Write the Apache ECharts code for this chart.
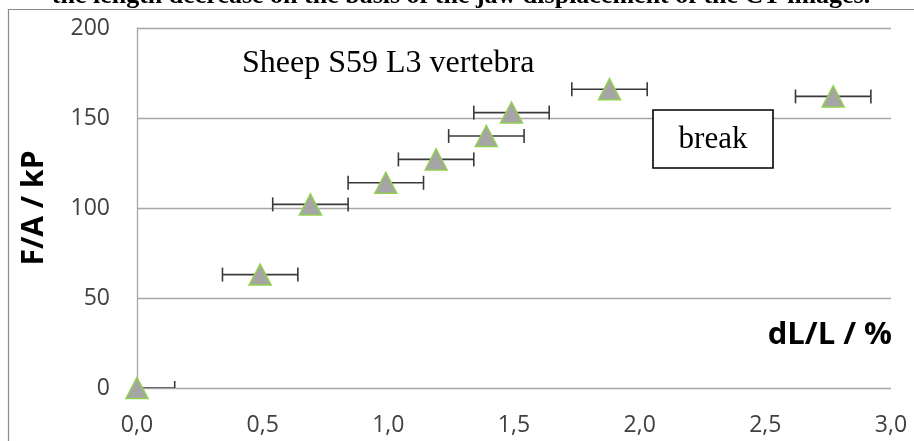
<!DOCTYPE html>
<html>
<head>
<meta charset="utf-8">
<script src="https://cdn.jsdelivr.net/npm/echarts@6/dist/echarts.min.js"></script>
<style>
html,body{margin:0;padding:0;background:#fff;}
#chart{width:914px;height:441px;}
</style>
</head>
<body>
<div id="chart"></div>
<script>
// ---- data ----
const xValues = [0.0, 0.49, 0.69, 0.99, 1.19, 1.39, 1.49, 1.88, 2.77];
const yValues = [0, 63, 102, 114, 127, 140, 153, 166, 162];
const xErrors = [0.15, 0.15, 0.15, 0.15, 0.15, 0.15, 0.15, 0.15, 0.15];
const xTicks = [0.0, 0.5, 1.0, 1.5, 2.0, 2.5, 3.0];
const yTicks = [0, 50, 100, 150, 200];
const titleText = 'the length decrease on the basis of the jaw displacement of the CT images.';
const sampleLabel = 'Sheep S59 L3 vertebra';
const breakLabel = 'break';
const xName = 'dL/L / %';
const yName = 'F/A / kP';

const points = xValues.map((x, i) => [x, yValues[i]]);
const errData = xValues.map((x, i) => [x, yValues[i], xErrors[i]]);

const chart = echarts.init(document.getElementById('chart'), null, {renderer: 'canvas'});

const tickFont = {fontFamily: 'Open Sans', fontSize: 23, color: '#404040'};

chart.setOption({
  animation: false,
  backgroundColor: '#ffffff',
  grid: {left: 137, right: 23, top: 28, bottom: 53, containLabel: false},
  xAxis: {
    type: 'value',
    min: xTicks[0],
    max: xTicks[xTicks.length - 1],
    interval: 0.5,
    axisLine: {show: false},
    axisTick: {show: false},
    splitLine: {show: false},
    axisLabel: Object.assign({margin: 26, formatter: v => v.toFixed(1).replace('.', ',')}, tickFont)
  },
  yAxis: {
    type: 'value',
    min: yTicks[0],
    max: yTicks[yTicks.length - 1],
    interval: 50,
    name: yName,
    nameLocation: 'middle',
    nameGap: 88,
    nameRotate: 90,
    nameTextStyle: {fontFamily: 'Open Sans', fontWeight: 'bold', fontSize: 30, color: '#000'},
    axisLine: {show: true, lineStyle: {color: '#a6a6a6', width: 1.3}},
    axisTick: {show: false},
    splitLine: {show: true, lineStyle: {color: '#a6a6a6', width: 1.3}},
    axisLabel: Object.assign({margin: 27}, tickFont)
  },
  graphic: [
    {type: 'rect', shape: {x: 8.5, y: 9.5, width: 1000, height: 1000}, style: {fill: 'none', stroke: '#8c8c8c', lineWidth: 1.2}, z: 1},
    {type: 'text', x: 461, y: 9, style: {text: titleText, font: 'bold 26px "Liberation Serif"', fill: '#000', align: 'center', verticalAlign: 'bottom'}, z: 10},
    {type: 'text', x: 242, y: 80, style: {text: sampleLabel, font: '32px "Liberation Serif"', fill: '#000', align: 'left', verticalAlign: 'bottom'}, z: 10},
    {type: 'rect', shape: {x: 653, y: 110, width: 120, height: 58}, style: {fill: '#fff', stroke: '#000', lineWidth: 1.6}, z: 10},
    {type: 'text', x: 713, y: 140, style: {text: breakLabel, font: '31px "Liberation Serif"', fill: '#000', align: 'center', verticalAlign: 'middle'}, z: 11},
    {type: 'text', x: 892, y: 335, style: {text: xName, font: 'bold 31px "Open Sans"', fill: '#000', align: 'right', verticalAlign: 'middle'}, z: 10}
  ],
  series: [
    {
      type: 'custom',
      clip: true,
      z: 2,
      data: errData,
      renderItem: function (params, api) {
        const x = api.value(0), y = api.value(1), e = api.value(2);
        const p0 = api.coord([x - e, y]);
        const p1 = api.coord([x + e, y]);
        const cap = 7;
        const st = {stroke: '#3a3a3a', lineWidth: 1.6};
        return {
          type: 'group',
          children: [
            {type: 'line', shape: {x1: p0[0], y1: p0[1], x2: p1[0], y2: p1[1]}, style: st},
            {type: 'line', shape: {x1: p0[0], y1: p0[1] - cap, x2: p0[0], y2: p0[1] + cap}, style: st},
            {type: 'line', shape: {x1: p1[0], y1: p1[1] - cap, x2: p1[0], y2: p1[1] + cap}, style: st}
          ]
        };
      }
    },
    {
      type: 'scatter',
      z: 3,
      data: points,
      symbol: 'triangle',
      symbolSize: [22, 21],
      clip: false,
      itemStyle: {color: '#a5a5a5', borderColor: '#92d050', borderWidth: 1.5, opacity: 1}
    }
  ]
});
</script>
</body>
</html>
